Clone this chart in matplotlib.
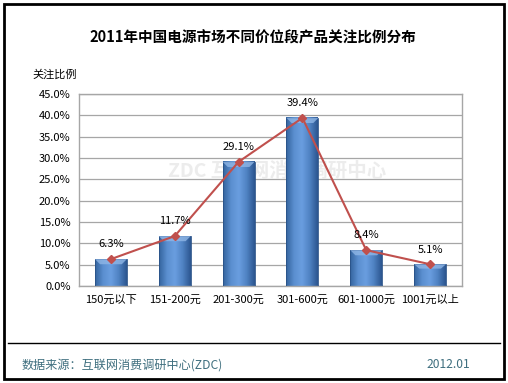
import numpy as np
import matplotlib
matplotlib.use("Agg")
import matplotlib.pyplot as plt
from matplotlib.colors import LinearSegmentedColormap

plt.rcParams['font.family'] = ['Noto Sans CJK SC', 'DejaVu Sans']

title = "2011年中国电源市场不同价位段产品关注比例分布"
categories = ["150元以下", "151-200元", "201-300元", "301-600元", "601-1000元", "1001元以上"]
values = [6.3, 11.7, 29.1, 39.4, 8.4, 5.1]
labels = ["6.3%", "11.7%", "29.1%", "39.4%", "8.4%", "5.1%"]
yticks = [0, 5, 10, 15, 20, 25, 30, 35, 40, 45]

fig = plt.figure(figsize=(5.08, 3.83), dpi=100)
fig.patch.set_facecolor("white")

# outer frame and footer separator
fig.add_artist(plt.Rectangle((4 / 508, 4 / 383), 500 / 508, 375 / 383,
                             transform=fig.transFigure, fill=False,
                             edgecolor="black", linewidth=2))
fig.add_artist(plt.Line2D([8 / 508, 500 / 508], [40 / 383, 40 / 383],
                          transform=fig.transFigure, color="black", linewidth=1))

ax = fig.add_axes([79 / 508, 97 / 383, 383 / 508, 192 / 383])
x = np.arange(len(categories))
w = 0.5

# bars with a horizontal shading to mimic the bevelled look
cmap = LinearSegmentedColormap.from_list(
    "bar", ["#34649e", "#5b8fd0", "#6a9ee0", "#4f82c2", "#2c5690"])
grad = np.linspace(0, 1, 64).reshape(1, -1)
for xi, v in zip(x, values):
    ax.imshow(grad, cmap=cmap, aspect="auto", zorder=2,
              extent=[xi - w / 2, xi + w / 2, 0, v])
    ax.bar(xi, v, width=w, color="none", edgecolor="#2a5288", linewidth=0.6, zorder=3)
    # light top bevel
    cap = min(1.2, v * 0.2)
    ax.fill([xi - w / 2, xi + w / 2, xi + w / 2 - 0.08, xi - w / 2 + 0.08],
            [v, v, v - cap, v - cap], color="#8fb6e6", alpha=0.8, zorder=3, linewidth=0)

ax.plot(x, values, color="#C0504D", linewidth=1.5, marker="D", markersize=4,
        markerfacecolor="#C0504D", markeredgecolor="#C0504D", zorder=4)
for xi, v, t in zip(x, values, labels):
    ax.annotate(t, (xi, v), xytext=(0, 7), textcoords="offset points",
                ha="center", va="bottom", fontsize=8, color="black", zorder=5)

# faint watermark
ax.text(2.6, 27, "ZDC 互联网消费调研中心", fontsize=14, color="#ececec",
        ha="center", va="center", fontweight="bold", zorder=1)

ax.set_xlim(-0.5, len(categories) - 0.5)
ax.set_ylim(0, 45)
ax.set_yticks(yticks)
ax.set_yticklabels(["%.1f%%" % t for t in yticks], fontsize=8)
ax.set_xticks(x)
ax.set_xticklabels(categories, fontsize=8)
ax.tick_params(length=0, pad=6)
ax.grid(axis="y", color="#a6a6a6", linewidth=0.9, zorder=0)
ax.set_axisbelow(True)
for s in ax.spines.values():
    s.set_color("#a6a6a6")
    s.set_linewidth(1)

fig.text(253 / 508, 1 - 38 / 383, title, ha="center", va="center",
         fontsize=10.5, fontweight="bold")
fig.text(32 / 508, 1 - 75 / 383, "关注比例", ha="left", va="center", fontsize=8)
fig.text(22 / 508, 1 - 365 / 383, "数据来源：互联网消费调研中心(ZDC)", ha="left",
         va="center", fontsize=8.7, color="#3f6f7f")
fig.text(470 / 508, 1 - 365 / 383, "2012.01", ha="right", va="center",
         fontsize=8.7, color="#3f6f7f")

fig.savefig("out.png", dpi=100, facecolor="white")
